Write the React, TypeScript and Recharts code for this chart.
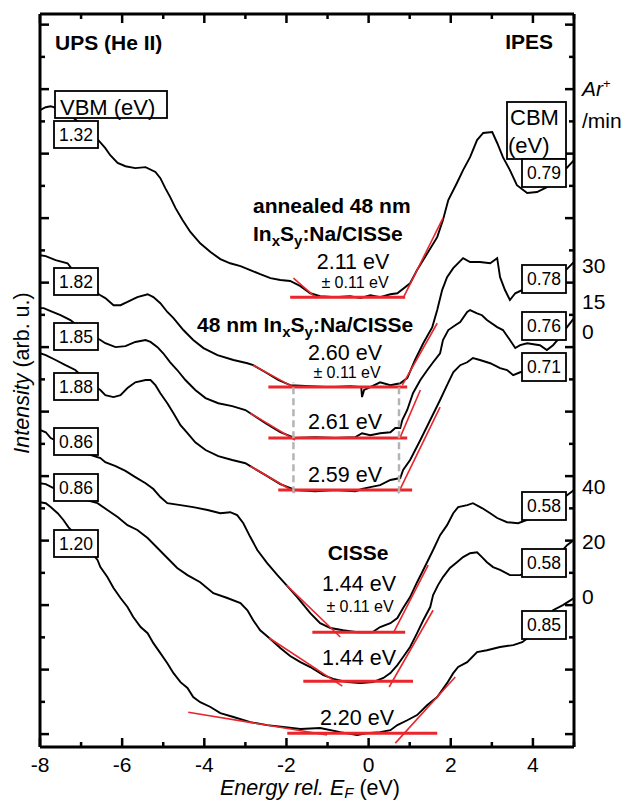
import React from 'react';
import { ComposedChart, Line, XAxis, YAxis, ReferenceLine } from 'recharts';

const FONT = 'Arial, "Liberation Sans", Helvetica, sans-serif';
const RED = '#e8262b';

const xTicks = [-8, -7, -6, -5, -4, -3, -2, -1, 0, 1, 2, 3, 4, 5];
const yTicks = [0, 1, 2, 3, 4, 5, 6, 7, 8, 9, 10, 11, 12, 13, 14, 15, 16, 17, 18, 19, 20, 21, 22];

type P = [number, number];

// spectra, top to bottom (energy eV, intensity arb. u.)
const annealed: P[] = [
  [-8.0, 19.35], [-7.86, 19.44], [-7.74, 19.47], [-7.67, 19.44], [-7.26, 19.19], [-6.89, 18.79],
  [-6.58, 18.42], [-6.41, 18.17], [-6.29, 17.95], [-6.11, 17.71], [-5.92, 17.61], [-5.68, 17.55],
  [-5.43, 17.58], [-5.19, 17.43], [-5.07, 17.24], [-4.95, 16.93], [-4.83, 16.65], [-4.70, 16.31],
  [-4.53, 15.94], [-4.34, 15.57], [-4.10, 15.22], [-3.85, 14.95], [-3.61, 14.73], [-3.37, 14.6],
  [-3.12, 14.51], [-2.88, 14.39], [-2.64, 14.26], [-2.39, 14.14], [-2.15, 14.08], [-1.91, 14.05],
  [-1.66, 13.89], [-1.42, 13.67], [-1.18, 13.58], [-0.81, 13.55], [-0.45, 13.58], [-0.2, 13.52],
  [0.04, 13.61], [0.28, 13.55], [0.53, 13.64], [0.7, 13.67], [1.01, 13.98], [1.18, 14.39],
  [1.43, 14.91], [1.67, 15.41], [1.81, 15.94], [1.94, 16.56], [2.15, 17.09], [2.3, 17.49],
  [2.47, 17.89], [2.64, 18.42], [2.79, 18.64], [3.01, 18.67], [3.13, 18.33], [3.27, 17.89],
  [3.44, 17.49], [3.61, 17.02], [3.86, 16.78], [4.1, 16.81], [4.34, 16.96], [4.66, 17.33], [5.0, 17.8],
];
const inxsy30: P[] = [
  [-8.0, 14.85], [-7.86, 14.82], [-7.62, 14.7], [-7.33, 14.6], [-7.01, 14.08], [-6.65, 13.71],
  [-6.53, 13.61], [-6.41, 13.52], [-6.21, 13.3], [-6.04, 13.3], [-5.87, 13.4], [-5.63, 13.55],
  [-5.38, 13.64], [-5.24, 13.55], [-5.07, 13.36], [-4.9, 13.09], [-4.75, 12.9], [-4.51, 12.53],
  [-4.27, 12.22], [-4.02, 11.97], [-3.68, 11.75], [-3.29, 11.6], [-2.95, 11.5], [-2.81, 11.44],
  [-2.51, 11.22], [-2.2, 10.98], [-1.91, 10.82], [-1.42, 10.79], [-0.93, 10.76], [-0.45, 10.79],
  [-0.18, 10.76], [-0.16, 10.45], [-0.11, 10.67], [0.04, 10.76], [0.28, 10.91], [0.53, 10.82],
  [0.77, 10.88], [0.94, 11.04], [1.13, 11.6], [1.33, 12.12], [1.55, 12.62], [1.67, 13.15],
  [1.79, 13.77], [1.91, 14.17], [2.06, 14.45], [2.3, 14.76], [2.47, 14.64], [2.71, 14.64],
  [2.96, 14.6], [3.13, 14.76], [3.2, 14.17], [3.32, 13.77], [3.44, 13.46], [3.57, 13.67],
  [3.74, 13.77], [4.17, 13.83], [4.54, 14.08], [4.85, 14.45], [5.0, 14.64],
];
const inxsy15: P[] = [
  [-8.0, 13.21], [-7.91, 13.21], [-7.74, 13.12], [-7.5, 12.99], [-7.26, 12.84], [-6.89, 12.47],
  [-6.53, 12.22], [-6.41, 12.12], [-6.16, 12.0], [-5.92, 12.03], [-5.68, 12.16], [-5.43, 12.22],
  [-5.31, 12.16], [-5.14, 12.0], [-5.0, 11.81], [-4.83, 11.53], [-4.66, 11.29], [-4.46, 10.98],
  [-4.22, 10.67], [-3.97, 10.42], [-3.66, 10.26], [-3.32, 10.17], [-3.0, 10.05], [-2.88, 9.95],
  [-2.51, 9.64], [-2.15, 9.36], [-1.79, 9.18], [-1.3, 9.21], [-0.81, 9.18], [-0.32, 9.21],
  [-0.16, 9.33], [0.04, 9.27], [0.28, 9.33], [0.53, 9.36], [0.65, 9.49], [0.77, 9.49],
  [0.82, 9.74], [0.94, 10.05], [1.08, 10.57], [1.26, 10.98], [1.43, 11.29], [1.57, 11.53],
  [1.74, 11.81], [1.81, 12.22], [1.94, 12.53], [2.11, 12.68], [2.23, 12.78], [2.4, 13.09],
  [2.47, 13.15], [2.64, 13.05], [2.76, 12.99], [2.88, 12.84], [3.13, 12.62], [3.27, 12.53],
  [3.44, 12.22], [3.57, 11.97], [3.69, 12.06], [3.86, 12.12], [4.17, 12.06], [4.34, 11.91],
  [4.49, 12.06], [4.66, 12.31], [4.83, 12.62], [5.0, 12.9],
];
const inxsy0: P[] = [
  [-8.0, 11.81], [-7.86, 11.75], [-7.62, 11.6], [-7.38, 11.44], [-7.14, 11.29], [-6.82, 10.91],
  [-6.53, 10.67], [-6.41, 10.51], [-6.21, 10.45], [-6.04, 10.51], [-5.87, 10.73], [-5.68, 10.91],
  [-5.43, 10.98], [-5.31, 10.98], [-5.19, 10.82], [-5.07, 10.57], [-4.9, 10.26], [-4.75, 9.95],
  [-4.58, 9.58], [-4.41, 9.33], [-4.22, 9.05], [-3.97, 8.81], [-3.66, 8.62], [-3.32, 8.5],
  [-3.0, 8.4], [-2.88, 8.31], [-2.51, 8.03], [-2.15, 7.75], [-1.79, 7.57], [-1.3, 7.53],
  [-0.81, 7.57], [-0.32, 7.53], [-0.16, 7.6], [0.04, 7.66], [0.28, 7.72], [0.53, 7.88],
  [0.77, 7.94], [0.84, 8.19], [1.01, 8.5], [1.26, 9.12], [1.5, 9.74], [1.74, 10.36],
  [1.91, 10.82], [2.06, 11.22], [2.23, 11.44], [2.4, 11.53], [2.54, 11.66], [2.71, 11.6],
  [2.96, 11.5], [3.2, 11.35], [3.37, 11.29], [3.52, 11.13], [3.69, 11.22], [4.17, 11.35],
  [4.66, 11.53], [4.76, 11.6],
];
const cisse40: P[] = [
  [-8.0, 9.43], [-7.86, 9.36], [-7.74, 9.18], [-7.14, 8.81], [-6.53, 8.56], [-6.41, 8.43],
  [-6.16, 8.31], [-5.92, 8.16], [-5.68, 7.97], [-5.43, 7.78], [-5.24, 7.6], [-5.07, 7.35],
  [-4.9, 7.16], [-4.58, 7.1], [-4.27, 7.04], [-3.92, 6.95], [-3.61, 6.85], [-3.37, 6.88],
  [-3.2, 6.79], [-3.05, 6.54], [-2.88, 6.11], [-2.71, 5.71], [-2.47, 5.3], [-2.22, 4.93],
  [-2.0, 4.62], [-1.74, 4.25], [-1.42, 3.75], [-1.18, 3.44], [-0.93, 3.29], [-0.62, 3.22],
  [-0.28, 3.16], [0.09, 3.16], [0.28, 3.32], [0.53, 3.44], [0.7, 3.6], [0.84, 3.91],
  [1.01, 4.25], [1.18, 4.71], [1.33, 5.09], [1.45, 5.4], [1.57, 5.71], [1.74, 6.17],
  [1.91, 6.48], [2.06, 6.85], [2.18, 7.04], [2.4, 7.1], [2.54, 7.16], [2.76, 7.01],
  [2.96, 6.85], [3.13, 6.7], [3.37, 6.57], [3.64, 6.54], [4.17, 6.79], [4.66, 7.26],
  [4.83, 7.41], [5.0, 7.57],
];
const cisse20: P[] = [
  [-8.0, 7.78], [-7.86, 7.75], [-7.67, 7.63], [-7.14, 7.35], [-6.6, 7.16], [-6.36, 6.95],
  [-6.11, 6.73], [-5.87, 6.48], [-5.63, 6.33], [-5.38, 6.08], [-5.14, 5.77], [-4.9, 5.46],
  [-4.66, 5.15], [-4.41, 4.93], [-4.1, 4.71], [-3.78, 4.37], [-3.44, 4.22], [-3.12, 4.06],
  [-2.95, 3.84], [-2.81, 3.53], [-2.64, 3.22], [-2.42, 2.98], [-2.15, 2.67], [-1.91, 2.42],
  [-1.66, 2.23], [-1.42, 2.08], [-1.1, 1.83], [-0.86, 1.71], [-0.52, 1.61], [-0.2, 1.58],
  [0.11, 1.61], [0.36, 1.74], [0.53, 1.89], [0.7, 2.14], [0.84, 2.39], [1.01, 2.7],
  [1.18, 3.13], [1.33, 3.53], [1.5, 3.94], [1.57, 4.31], [1.69, 4.62], [1.81, 4.87],
  [1.98, 5.15], [2.15, 5.33], [2.3, 5.49], [2.47, 5.61], [2.64, 5.64], [2.76, 5.49],
  [2.88, 5.33], [3.03, 5.18], [3.2, 5.09], [3.44, 4.93], [3.69, 4.93], [4.3, 5.3],
  [4.66, 5.61], [4.83, 5.86], [5.0, 6.02],
];
const cisse0: P[] = [
  [-8.0, 7.19], [-7.86, 7.16], [-7.74, 7.04], [-7.57, 6.85], [-7.43, 6.64], [-7.31, 6.42],
  [-6.89, 5.86], [-6.6, 5.4], [-6.53, 5.18], [-6.36, 4.87], [-6.21, 4.53], [-6.04, 4.22],
  [-5.87, 3.94], [-5.73, 3.63], [-5.55, 3.32], [-5.38, 3.13], [-5.24, 2.82], [-5.07, 2.51],
  [-4.9, 2.2], [-4.75, 1.89], [-4.58, 1.61], [-4.41, 1.43], [-4.27, 1.15], [-4.1, 0.99],
  [-3.85, 0.84], [-3.61, 0.65], [-3.29, 0.53], [-2.88, 0.37], [-2.47, 0.28], [-2.08, 0.22],
  [-1.66, 0.16], [-1.18, 0.19], [-0.69, 0.06], [-0.28, -0.03], [-0.03, 0.03], [0.28, 0.06],
  [0.53, 0.12], [0.7, 0.28], [0.94, 0.43], [1.18, 0.59], [1.43, 0.9], [1.67, 1.15],
  [1.91, 1.58], [2.06, 1.89], [2.18, 2.08], [2.4, 2.23], [2.64, 2.54], [2.88, 2.6],
  [3.2, 2.7], [3.52, 2.76], [3.74, 2.85], [4.05, 3.16], [4.3, 3.53], [4.49, 3.84],
  [4.73, 4.0], [5.0, 4.22],
];

const spectra = [annealed, inxsy30, inxsy15, inxsy0, cisse40, cisse20, cisse0];

// linear extrapolations: baseline [x1, x2, y], edges [[x1, y1], [x2, y2]]
const baselines: [number, number, number][] = [
  [-1.91, 0.89, 13.55], [-2.44, 0.94, 10.76], [-2.44, 0.94, 9.18], [-2.2, 1.06, 7.57],
  [-1.37, 0.89, 3.16], [-1.59, 1.08, 1.64], [-1.98, 1.67, 0.03],
];
const vbmFits: [P, P][] = [
  [[-1.83, 14.14], [-1.27, 13.52]], [[-2.81, 11.44], [-1.79, 10.73]], [[-2.88, 9.95], [-1.79, 9.12]],
  [[-2.88, 8.31], [-1.79, 7.5]], [[-2.0, 4.62], [-0.69, 3.01]], [[-2.42, 2.98], [-0.64, 1.49]],
  [[-4.39, 0.68], [-1.01, -0.03]],
];
const cbmFits: [P, P][] = [
  [[0.84, 13.52], [1.81, 16.0]], [[0.82, 10.82], [1.67, 12.74]], [[0.77, 9.21], [1.26, 10.67]],
  [[0.72, 7.47], [1.74, 10.14]], [[0.6, 3.13], [1.45, 5.24]], [[0.5, 1.46], [1.57, 3.84]],
  [[0.65, -0.28], [2.11, 1.77]],
];
const guideX = [-1.83, 0.74];
const guideY: [number, number] = [7.47, 10.9];

const vbmValues = ['1.32', '1.82', '1.85', '1.88', '0.86', '0.86', '1.20'];
const cbmValues = ['0.79', '0.78', '0.76', '0.71', '0.58', '0.58', '0.85'];
const sputterMinutes = ['30', '15', '0', '40', '20', '0'];
const gapValues = ['2.11 eV', '2.60 eV', '2.61 eV', '2.59 eV', '1.44 eV', '1.44 eV', '2.20 eV'];

// overlay layout (px)
const vbmBoxTop = [121, 268, 323, 373, 428, 474, 530];
const cbmBoxTop = [159, 265, 312, 353, 492, 549, 611];
const sputterBase = [273, 309, 339, 494, 549, 604];
const gapPos = [[353, 269], [345, 360], [345, 429], [345, 482], [359, 591], [359, 665], [357, 725]];
const pmPos = [[355, 288], [347, 378], [360, 612]];

const BottomTick = (props: any) => {
  const { x, y, payload } = props;
  const v = payload.value;
  const major = v % 2 === 0;
  return (
    <g>
      <line x1={x} x2={x} y1={y} y2={y - (major ? 9 : 5)} stroke="#000" strokeWidth={2.5} />
      {major && v < 5 && (
        <text x={x} y={y + 25} textAnchor="middle" fontSize={21} fontFamily={FONT} fill="#000">
          {v}
        </text>
      )}
    </g>
  );
};
const TopTick = (props: any) => {
  const { x, y, payload } = props;
  const major = payload.value % 2 === 0;
  return <line x1={x} x2={x} y1={y} y2={y + (major ? 9 : 5)} stroke="#000" strokeWidth={2.5} />;
};
const LeftTick = (props: any) => {
  const { x, y, payload } = props;
  const major = payload.value % 2 === 0;
  return <line x1={x} x2={x + (major ? 9 : 5)} y1={y} y2={y} stroke="#000" strokeWidth={2.5} />;
};
const RightTick = (props: any) => {
  const { x, y, payload } = props;
  const major = payload.value % 2 === 0;
  return <line x1={x} x2={x - (major ? 9 : 5)} y1={y} y2={y} stroke="#000" strokeWidth={2.5} />;
};

const NumBox = ({ x, y, w, h, label }: { x: number; y: number; w: number; h: number; label: string }) => (
  <g>
    <rect x={x} y={y} width={w} height={h} fill="#fff" stroke="#000" strokeWidth={1.8} />
    <text x={x + w / 2} y={y + h / 2 + 6.3} textAnchor="middle" fontSize={17.5}>
      {label}
    </text>
  </g>
);

export default function App() {
  const axisLine = { stroke: '#000', strokeWidth: 3 };
  return (
    <div style={{ position: 'absolute', left: 0, top: 0, width: 624, height: 802, background: '#fff' }}>
      <ComposedChart width={624} height={802} margin={{ top: 13, right: 49, bottom: 54, left: 39 }}>
        <XAxis xAxisId="b" type="number" dataKey="x" domain={[-8, 5]} ticks={xTicks} interval={0}
          allowDataOverflow height={1} tickSize={0} tickMargin={0} tickLine={false}
          axisLine={axisLine} tick={<BottomTick />} />
        <XAxis xAxisId="t" orientation="top" type="number" dataKey="x" domain={[-8, 5]} ticks={xTicks}
          interval={0} allowDataOverflow height={1} tickSize={0} tickMargin={0} tickLine={false}
          axisLine={axisLine} tick={<TopTick />} />
        <YAxis yAxisId="l" type="number" domain={[-0.4, 22.33]} ticks={yTicks} interval={0}
          allowDataOverflow width={1} tickSize={0} tickMargin={0} tickLine={false}
          axisLine={axisLine} tick={<LeftTick />} />
        <YAxis yAxisId="r" orientation="right" type="number" domain={[-0.4, 22.33]} ticks={yTicks}
          interval={0} allowDataOverflow width={1} tickSize={0} tickMargin={0} tickLine={false}
          axisLine={axisLine} tick={<RightTick />} />
        {spectra.map((s, i) => (
          <Line key={'s' + i} xAxisId="b" yAxisId="l" data={s.map(([x, y]) => ({ x, y }))} dataKey="y"
            type="linear" stroke="#000" strokeWidth={1.9} dot={false} isAnimationActive={false} />
        ))}
        {baselines.map(([x1, x2, y], i) => (
          <ReferenceLine key={'b' + i} xAxisId="b" yAxisId="l" ifOverflow="visible"
            segment={[{ x: x1, y }, { x: x2, y }]} stroke={RED} strokeWidth={3} />
        ))}
        {[...vbmFits, ...cbmFits].map(([a, b], i) => (
          <ReferenceLine key={'f' + i} xAxisId="b" yAxisId="l" ifOverflow="visible"
            segment={[{ x: a[0], y: a[1] }, { x: b[0], y: b[1] }]} stroke={RED} strokeWidth={1.6} />
        ))}
        {guideX.map((gx, i) => (
          <ReferenceLine key={'g' + i} xAxisId="b" yAxisId="l" ifOverflow="visible"
            segment={[{ x: gx, y: guideY[0] }, { x: gx, y: guideY[1] }]}
            stroke="#b4b4b4" strokeWidth={2.5} strokeDasharray="7 4" />
        ))}
      </ComposedChart>

      <svg width={624} height={802} style={{ position: 'absolute', left: 0, top: 0, pointerEvents: 'none' }}
        fontFamily={FONT} fill="#000">
        <text x={55} y={50} fontSize={21} fontWeight="bold">UPS (He II)</text>
        <text x={553} y={49} fontSize={21} fontWeight="bold" textAnchor="end">IPES</text>

        <rect x={55} y={91} width={112} height={27} fill="#fff" stroke="#000" strokeWidth={1.8} />
        <text x={60} y={115} fontSize={22}>VBM (eV)</text>
        {vbmValues.map((v, i) => (
          <NumBox key={'v' + i} x={54} y={vbmBoxTop[i]} w={44} h={27} label={v} />
        ))}

        <rect x={507} y={102} width={59} height={57} fill="#fff" stroke="#000" strokeWidth={1.8} />
        <text x={510} y={125} fontSize={22}>CBM</text>
        <text x={508} y={153} fontSize={22}>(eV)</text>
        {cbmValues.map((v, i) => (
          <NumBox key={'c' + i} x={522} y={cbmBoxTop[i]} w={44} h={28} label={v} />
        ))}

        <text x={582} y={96} fontSize={21}>
          <tspan fontStyle="italic">Ar</tspan>
          <tspan fontSize={13} dy={-8}>+</tspan>
        </text>
        <text x={582} y={128} fontSize={21}>/min</text>
        {sputterMinutes.map((m, i) => (
          <text key={'m' + i} x={582} y={sputterBase[i]} fontSize={21}>{m}</text>
        ))}

        <text x={253} y={213} fontSize={21} fontWeight="bold">annealed 48 nm</text>
        <text x={253} y={241} fontSize={21} fontWeight="bold">
          In<tspan fontSize={15} dy={5}>x</tspan>
          <tspan dy={-5}>S</tspan>
          <tspan fontSize={15} dy={5}>y</tspan>
          <tspan dy={-5}>:Na/CISSe</tspan>
        </text>
        <text x={197} y={332} fontSize={21} fontWeight="bold">
          48 nm In<tspan fontSize={15} dy={5}>x</tspan>
          <tspan dy={-5}>S</tspan>
          <tspan fontSize={15} dy={5}>y</tspan>
          <tspan dy={-5}>:Na/CISSe</tspan>
        </text>
        <text x={358} y={560} fontSize={21} fontWeight="bold" textAnchor="middle">CISSe</text>

        {gapValues.map((g, i) => (
          <text key={'gap' + i} x={gapPos[i][0]} y={gapPos[i][1]} fontSize={21.5} textAnchor="middle">{g}</text>
        ))}
        {pmPos.map(([px, py], i) => (
          <text key={'pm' + i} x={px} y={py} fontSize={16} textAnchor="middle">± 0.11 eV</text>
        ))}

        <text transform="translate(29,373) rotate(-90)" fontSize={21.5} textAnchor="middle">
          <tspan fontStyle="italic">Intensity</tspan> (arb. u.)
        </text>
        <text x={310} y={795} fontSize={21.5} textAnchor="middle">
          <tspan fontStyle="italic">Energy rel. E</tspan>
          <tspan fontStyle="italic" fontSize={15} dy={3}>F</tspan>
          <tspan dy={-3}> (eV)</tspan>
        </text>
      </svg>
    </div>
  );
}
